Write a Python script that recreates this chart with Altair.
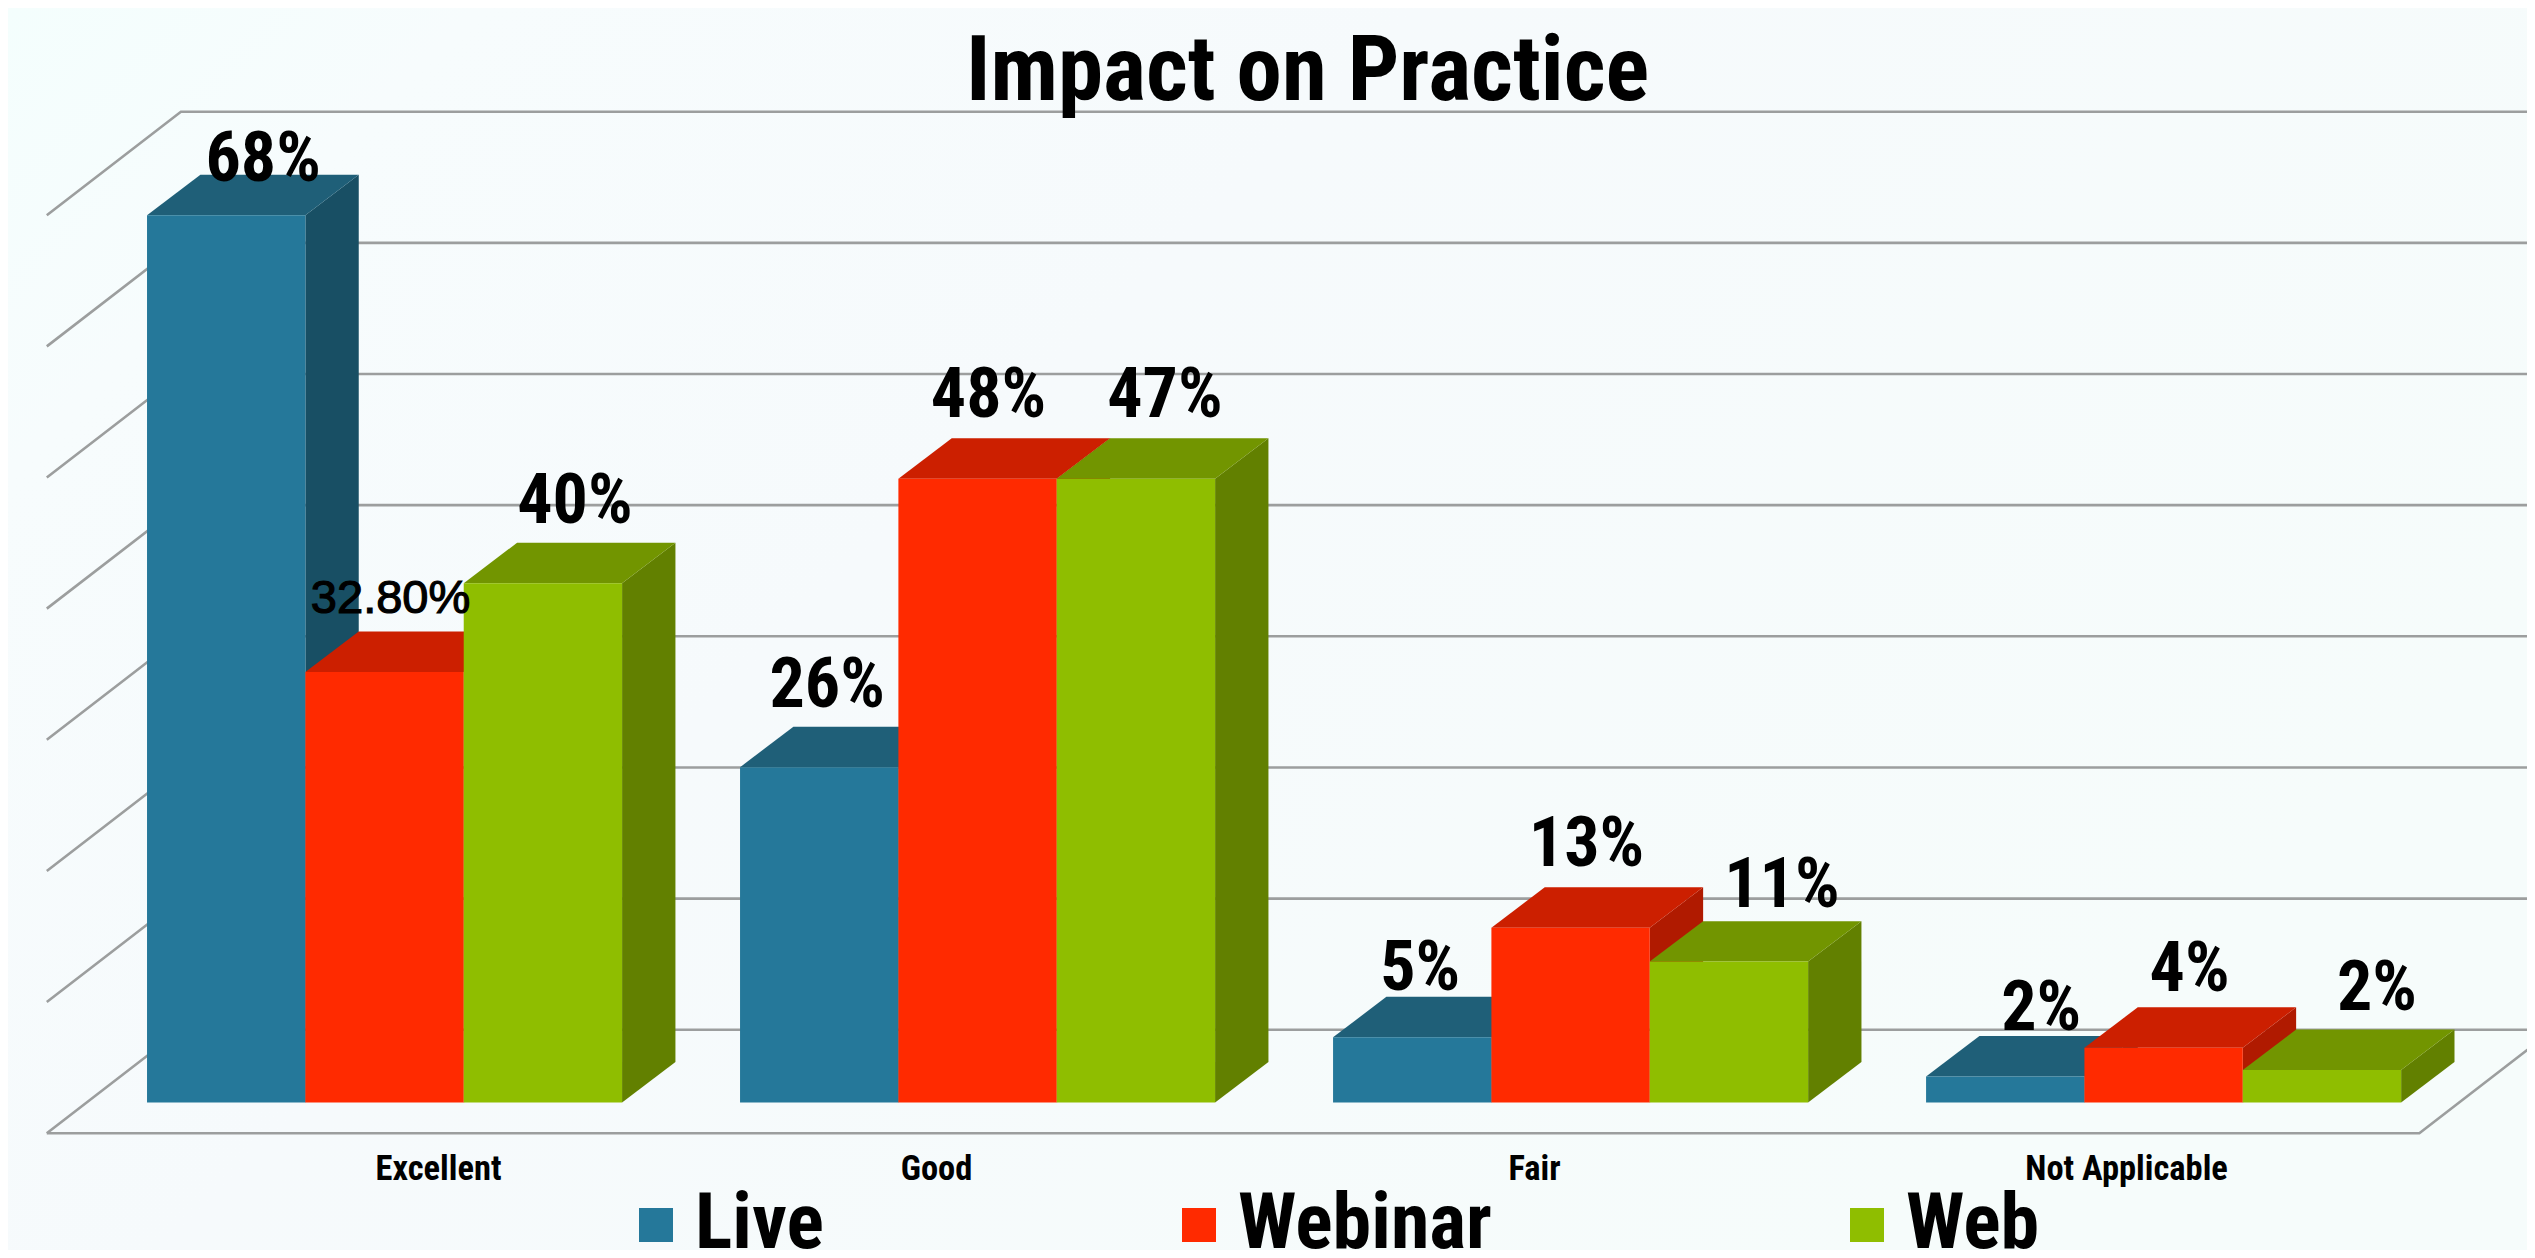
import altair as alt
import pandas as pd

categories = ["Excellent", "Good", "Fair", "Not Applicable"]
series = ["Live", "Webinar", "Web"]
live = [68, 25.7, 5, 2]
webinar = [33, 47.8, 13.4, 4.2]
web = [39.8, 47.8, 10.8, 2.5]
live_labels = ["68%", "26%", "5%", "2%"]
webinar_labels = ["32.80%", "48%", "13%", "4%"]
web_labels = ["40%", "47%", "11%", "2%"]
grid_levels = [0, 10, 20, 30, 40, 50, 60, 70]

front_colors = ["#25789A", "#FF2A00", "#8FBE00"]
top_colors = ["#1F5F78", "#CC1F00", "#729500"]
side_colors = ["#184F64", "#B01A00", "#628000"]

# hand-placed labels in the source: pixel offsets from each bar's top centre
label_dx = [[37, 8, 8, 36], [6, 11, 16, 26], [32, 29, 53, 55]]
label_dy = [[-55, -81, -68, -67], [-73, -83, -83, -78], [-81, -83, -76, -81]]
cat_dx = [54, -41, -36, -37]

W, H = 2519, 1242
PITCH = 3.745
DX, DY = 0.337, 3.1
WALL_DX, WALL_DY = 0.847, 7.93
WALL_BASE = -2.35
WALL_STEP = 1.005
LEFT_U, RIGHT_U = -0.633, 14.35
X_DOM = [-0.878, 15.03]
Y_DOM = [-11.3, 83.88]
FONT = "Roboto Condensed"

values = [live, webinar, web]
labels = [live_labels, webinar_labels, web_labels]

x_s = alt.Scale(domain=X_DOM, range=[0, W], nice=False, zero=False)
y_s = alt.Scale(domain=Y_DOM, range=[H, 0], nice=False, zero=False)
X = lambda f: alt.X(f, type="quantitative", scale=x_s, axis=None)
Y = lambda f: alt.Y(f, type="quantitative", scale=y_s, axis=None)

# background wash
bg = alt.Chart(pd.DataFrame({"a": [0]})).mark_rect(
    color=alt.LinearGradient(
        gradient="linear", x1=0, y1=0, x2=1, y2=0.5,
        stops=[
            alt.GradientStop(offset=0, color="#F4FEFD"),
            alt.GradientStop(offset=0.15, color="#F7FCFD"),
            alt.GradientStop(offset=0.45, color="#F6FAFC"),
            alt.GradientStop(offset=1, color="#F6FCFB"),
        ],
    )
).encode(x=alt.value(0), x2=alt.value(W), y=alt.value(0), y2=alt.value(H))

# walls and floor
rows = []
for k in grid_levels:
    base = WALL_BASE + k * WALL_STEP
    rows.append({"id": k, "o": 0, "u": LEFT_U, "v": base})
    rows.append({"id": k, "o": 1, "u": LEFT_U + WALL_DX, "v": base + WALL_DY})
    rows.append({"id": k, "o": 2, "u": RIGHT_U + WALL_DX, "v": base + WALL_DY})
rows += [
    {"id": -1, "o": 0, "u": LEFT_U, "v": WALL_BASE},
    {"id": -1, "o": 1, "u": RIGHT_U, "v": WALL_BASE},
    {"id": -1, "o": 2, "u": RIGHT_U + WALL_DX, "v": WALL_BASE + WALL_DY},
]
grid = alt.Chart(pd.DataFrame(rows)).mark_line(
    color="#9C9E9E", strokeWidth=2.6, clip=True
).encode(x=X("u"), y=Y("v"), detail="id:N", order="o:Q")

layers = [bg, grid]
for s, name in enumerate(series):
    side, top, front = [], [], []
    for g, cat in enumerate(categories):
        v = values[s][g]
        x0 = g * PITCH + s
        x1 = x0 + 1
        bid = f"{name}-{g}"
        side += [
            {"id": bid, "x": x1, "y": v, "y2": 0},
            {"id": bid, "x": x1 + DX, "y": v + DY, "y2": DY},
        ]
        top += [
            {"id": bid, "y": v, "x": x0, "x2": x1},
            {"id": bid, "y": v + DY, "x": x0 + DX, "x2": x1 + DX},
        ]
        front.append({"series": name, "x": x0, "x2": x1, "y": v, "y2": 0})
    layers.append(
        alt.Chart(pd.DataFrame(side))
        .mark_area(color=side_colors[s], opacity=1, orient="vertical")
        .encode(x=X("x"), y=Y("y"), y2="y2:Q", detail="id:N")
    )
    layers.append(
        alt.Chart(pd.DataFrame(top))
        .mark_area(color=top_colors[s], opacity=1, orient="horizontal")
        .encode(y=Y("y"), x=X("x"), x2="x2:Q", detail="id:N")
    )
    layers.append(
        alt.Chart(pd.DataFrame(front))
        .mark_rect()
        .encode(
            x=X("x"), x2="x2:Q", y=Y("y"), y2="y2:Q",
            color=alt.Color(
                "series:N",
                scale=alt.Scale(domain=series, range=front_colors),
                legend=alt.Legend(
                    title=None, orient="none", legendX=609, legendY=1178,
                    direction="horizontal", columns=3, columnPadding=336,
                    gridAlign="none", symbolType="square", symbolSize=1156,
                    symbolStrokeWidth=0, labelFont=FONT, labelFontWeight="bold",
                    labelFontSize=78, labelColor="#000000", labelOffset=0,
                    labelLimit=400,
                ),
            ),
        )
    )

# value labels
for s, name in enumerate(series):
    for g, cat in enumerate(categories):
        t = labels[s][g]
        small = "." in t
        layers.append(
            alt.Chart(pd.DataFrame({
                "x": [g * PITCH + s + 0.5], "y": [values[s][g]], "t": [t]
            }))
            .mark_text(
                font="Liberation Sans" if small else FONT,
                fontWeight="normal" if small else "bold",
                fontSize=47 if small else 70,
                stroke="#000000", strokeWidth=1.2 if small else 0,
                color="#000000", align="center", baseline="middle",
                dx=label_dx[s][g], dy=label_dy[s][g],
            )
            .encode(x=X("x"), y=Y("y"), text="t:N")
        )

# category labels
for g, cat in enumerate(categories):
    layers.append(
        alt.Chart(pd.DataFrame({"x": [g * PITCH + 1.5], "y": [-5.2], "t": [cat]}))
        .mark_text(font=FONT, fontWeight="bold", fontSize=34.5, color="#000000",
                   align="center", baseline="middle", dx=cat_dx[g])
        .encode(x=X("x"), y=Y("y"), text="t:N")
    )

chart = alt.layer(*layers).properties(
    width=W, height=H,
    background="#F7FCFD",
    padding=0,
    autosize=alt.AutoSizeParams(type="none"),
    title=alt.TitleParams(
        "Impact on Practice", font=FONT, fontWeight="bold", fontSize=91,
        color="#000000", anchor="middle", baseline="middle", dy=156, dx=40, offset=0,
    ),
).configure_view(stroke=None)

chart.save("out.html", embed_options={"renderer": "svg", "actions": False})
